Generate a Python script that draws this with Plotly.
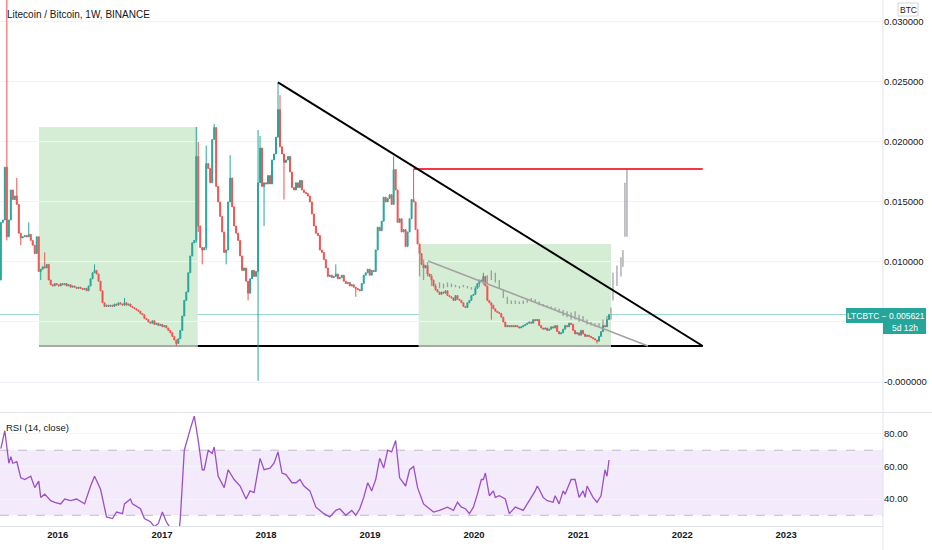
import pandas as pd
import plotly.graph_objects as go

# ---------------- DATA ----------------
# Weekly LTC/BTC candles (values in 1e-4 BTC), first week starting 2015-06-15
candle_start = "2015-06-15"
first_open_e4 = 85
close_e4 = [
    133, 135, 179, 121, 135, 160, 152, 155, 148, 124,
    120, 121, 122, 121, 123, 118, 114, 107, 121, 92,
    94, 96, 95, 98, 85, 81, 80, 82, 81, 80,
    82, 81, 82, 80, 81, 79, 80, 79, 78, 79,
    78, 77, 78, 76, 80, 86, 91, 93, 90, 84,
    76, 66, 63, 64, 63, 64, 63, 65, 64, 66,
    65, 64, 66, 64, 65, 63, 62, 61, 60, 59,
    57, 56, 53, 52, 50, 49, 51, 48, 49, 47,
    48, 46, 47, 45, 43, 41, 38, 35, 32, 36,
    43, 55, 68, 75, 91, 105, 116, 118, 188, 130,
    112, 110, 112, 182, 178, 166, 202, 212, 163, 150,
    138, 125, 108, 110, 150, 170, 146, 130, 124, 118,
    105, 93, 95, 84, 74, 86, 93, 88, 92, 166,
    195, 163, 166, 165, 172, 165, 185, 190, 204, 227,
    196, 190, 183, 185, 188, 175, 162, 160, 166, 162,
    168, 160, 158, 157, 155, 150, 140, 130, 124, 122,
    110, 108, 102, 95, 88, 89, 87, 88, 90, 86,
    87, 89, 84, 82, 83, 80, 81, 79, 78, 77,
    76, 82, 89, 91, 94, 89, 93, 92, 110, 129,
    126, 134, 154, 150, 153, 156, 148, 177, 160, 133,
    136, 125, 127, 113, 125, 136, 152, 150, 127, 115,
    107, 98, 95, 97, 90, 88, 85, 80, 77, 75,
    73, 75, 74, 76, 72, 71, 70, 68, 72, 69,
    68, 66, 63, 62, 66, 68, 72, 73, 78, 82,
    85, 84, 88, 80, 68, 66, 64, 61, 59, 58,
    57, 54, 50, 46, 47, 46, 47, 46, 47, 46,
    45, 46, 47, 48, 49, 50, 49, 52, 51, 52,
    47, 45, 44, 45, 43, 44, 46, 45, 47, 42,
    40, 41, 44, 47, 46, 49, 48, 43, 40, 41,
    39, 43, 40, 38, 39, 38, 37, 36, 35, 34,
    38, 42, 47, 46, 52, 56.21,
]
# notable wicks (week index -> value, 1e-4 BTC)
wick_high_e4 = {3: 340, 8: 170, 14: 133, 22: 108, 47: 98, 62: 70, 98: 212.5, 99: 200,
                103: 197, 107: 215, 115: 189, 129: 210, 130: 205, 139: 249.7, 140: 239,
                168: 98, 197: 188, 207: 177.5, 242: 91}
wick_low_e4 = {3: 118, 10: 114, 20: 85, 88: 30, 98: 116, 99: 125, 101: 98, 103: 110,
               113: 98, 124: 68, 129: 1, 132: 130, 142: 152, 178: 71, 246: 52, 299: 32}

# Grey "bars pattern" projection (week offsets from 2019-06-24, high/low in 1e-4 BTC)
ghost_start = "2019-06-24"
ghost_week = [0, 2, 4, 6, 8, 10, 12, 14, 16, 18, 20, 22, 24, 26, 28, 30, 32, 34, 36, 38,
              40, 42, 44, 46, 48, 50, 52, 54, 56, 58, 60, 62, 64, 66, 68, 70, 72, 74, 76, 78,
              80, 82, 84, 86, 88, 90, 92, 94, 96, 97, 99, 101, 102, 103, 104]
ghost_high_e4 = [112, 102, 100, 90, 82, 83, 82, 83, 82, 81, 80, 81, 80, 79, 80, 84, 86, 89, 93, 91,
                 85, 77, 71, 68, 68, 67, 68, 69, 70, 69, 67, 65, 64, 63, 62, 61, 60, 59, 58, 59,
                 56, 55, 52, 50, 49, 49, 52, 55, 62, 91, 97, 104, 110, 166, 177]
ghost_low_e4 = [88, 85, 88, 80, 76, 78, 78, 79, 79, 79, 78, 79, 78, 77, 78, 79, 81, 82, 85, 83,
                78, 70, 65, 65, 65, 65, 65, 66, 67, 66, 64, 63, 62, 61, 60, 58, 55, 54, 52, 52,
                50, 50, 48, 47, 46, 46, 47, 47, 52, 68, 80, 88, 96, 121, 121]

# RSI(14, close) readings: (week index, value)
rsi_week = [0, 2, 4, 5, 6, 8, 10, 12, 15, 17, 19, 20, 22, 25, 27, 30, 32, 35, 38, 42,
            45, 47, 50, 53, 56, 58, 61, 62, 65, 66, 70, 72, 75, 77, 79, 81, 83, 85, 86, 89,
            90, 92, 95, 97, 99, 101, 102, 104, 106, 107, 109, 112, 114, 117, 120, 123, 125, 127, 130, 132,
            135, 137, 139, 141, 143, 146, 148, 150, 152, 155, 158, 162, 165, 168, 170, 173, 176, 178, 180, 182,
            184, 186, 188, 190, 192, 194, 196, 198, 200, 203, 205, 207, 209, 212, 214, 217, 220, 224, 227, 229,
            231, 233, 235, 237, 239, 241, 242, 243, 245, 247, 248, 250, 253, 255, 258, 260, 262, 264, 266, 268,
            269, 270, 272, 274, 277, 278, 280, 282, 283, 286, 288, 290, 292, 293, 294, 297, 299, 301, 303, 304, 305]
rsi_val = [71, 82, 62, 66, 62, 63, 53, 52, 54, 47, 51, 41, 43, 39, 38, 37, 40, 39, 40, 37,
           48, 54, 46, 29, 28, 32, 31, 37, 40, 37, 34, 28, 26, 23, 25, 32, 26, 22, 18, 15,
           28, 70, 83, 91, 76, 58, 58, 70, 68, 72, 54, 47, 58, 52, 48, 40, 45, 44, 65, 58,
           59, 62, 69, 56, 55, 50, 50, 52, 48, 45, 35, 31, 29, 33, 34, 30, 33, 30, 34, 41,
           50, 45, 52, 65, 59, 70, 69, 76, 53, 48, 58, 60, 47, 37, 35, 32, 33, 35, 33, 38,
           35, 34, 31, 35, 43, 52, 52, 56, 42, 45, 41, 42, 40, 31, 35, 34, 33, 37, 41, 45,
           48, 46, 41, 39, 38, 42, 37, 45, 43, 52, 52, 41, 45, 41, 48, 41, 38, 42, 58, 54, 64]

# Drawings (date, price)
box1 = ("2015-10-27", "2017-05-06", 0.0030, 0.02125)
box2 = ("2019-06-21", "2021-04-26", 0.0030, 0.0115)
tri_top = ("2018-02-12", 0.02497, "2022-03-14", 0.0030)
tri_base = ("2017-02-20", "2022-03-14", 0.0030)
red_level = ("2019-06-03", "2022-03-14", 0.01775)
grey_trend = ("2019-07-24", 0.01008, "2021-09-03", 0.0030)
last_price = 0.005621

year_ticks = ["2016", "2017", "2018", "2019", "2020", "2021", "2022", "2023"]
price_ticks = [0.0, 0.005, 0.010, 0.015, 0.020, 0.025, 0.030]
price_tick_text = ["-0.000000", "", "0.010000", "0.015000", "0.020000", "0.025000", "0.030000"]
rsi_ticks = [40, 60, 80]
rsi_tick_text = ["40.00", "60.00", "80.00"]

x_range = ["2015-06-12", "2023-12-07"]
y_range = [-0.0025, 0.03183]
rsi_range = [23.4, 92.9]

# ---------------- BUILD ----------------
dates = pd.date_range(candle_start, periods=len(close_e4), freq="7D")
closes = [c / 1e4 for c in close_e4]
opens = [first_open_e4 / 1e4] + closes[:-1]
highs = [max(o, c) for o, c in zip(opens, closes)]
lows = [min(o, c) for o, c in zip(opens, closes)]
for k, v in wick_high_e4.items():
    highs[k] = v / 1e4
for k, v in wick_low_e4.items():
    lows[k] = v / 1e4

FONT = "Liberation Sans, Arial, sans-serif"
UP, DOWN = "#26a69a", "#ef5350"
TXT = "#131722"
W, H = 932, 550
ML, MR, MT, MB = 0, 49, 0, 24
PW, PH = W - ML - MR, H - MT - MB


def px(xp):
    return (xp - ML) / PW


def py(yp):
    return (PH + MT - yp) / PH


fig = go.Figure()

gs = pd.Timestamp(ghost_start)
gx, gy = [], []
for o, hi, lo in zip(ghost_week, ghost_high_e4, ghost_low_e4):
    d = gs + pd.Timedelta(weeks=o)
    gx += [d, d, None]
    gy += [hi / 1e4, lo / 1e4, None]
fig.add_trace(go.Scatter(x=gx, y=gy, mode="lines", line=dict(color="rgba(130,133,140,0.75)", width=1.3),
                         hoverinfo="skip", xaxis="x", yaxis="y"))

fig.add_trace(go.Candlestick(
    x=dates, open=opens, high=highs, low=lows, close=closes,
    increasing=dict(line=dict(color=UP, width=1), fillcolor=UP),
    decreasing=dict(line=dict(color=DOWN, width=1), fillcolor=DOWN),
    whiskerwidth=0, xaxis="x", yaxis="y", name="LTCBTC"))

rsi_x = [dates[i] for i in rsi_week]
fig.add_trace(go.Scatter(x=rsi_x, y=rsi_val, mode="lines", line=dict(color="#9c4fc8", width=1.3),
                         xaxis="x2", yaxis="y2", hoverinfo="skip"))

shapes = []
shapes.append(dict(type="line", xref="x", yref="y", x0=tri_base[0], x1=tri_base[1], y0=tri_base[2], y1=tri_base[2],
                   line=dict(color="#000000", width=2), layer="below"))
for b in (box1, box2):
    shapes.append(dict(type="rect", xref="x", yref="y", x0=b[0], x1=b[1], y0=b[2], y1=b[3],
                       fillcolor="#d5ecd5", line=dict(width=0), layer="below"))
    shapes.append(dict(type="line", xref="x", yref="y", x0=b[0], x1=b[1], y0=b[2], y1=b[2],
                       line=dict(color="#a8aaa8", width=2), layer="below"))
shapes.append(dict(type="line", xref="paper", yref="y", x0=0, x1=1, y0=last_price, y1=last_price,
                   line=dict(color="rgba(38,166,154,0.45)", width=1), layer="below"))
shapes.append(dict(type="rect", xref="paper", yref="y2", x0=0, x1=1, y0=30, y1=70,
                   fillcolor="#f3eafb", line=dict(width=0), layer="below"))
for lv in (30, 70):
    shapes.append(dict(type="line", xref="paper", yref="y2", x0=0, x1=1, y0=lv, y1=lv,
                       line=dict(color="#c4b8cc", width=1, dash="dash"), layer="below"))
shapes.append(dict(type="line", xref="x", yref="y", x0=grey_trend[0], y0=grey_trend[1], x1=grey_trend[2], y1=grey_trend[3],
                   line=dict(color="#a3a3a3", width=1.5)))
shapes.append(dict(type="line", xref="x", yref="y", x0=red_level[0], x1=red_level[1], y0=red_level[2], y1=red_level[2],
                   line=dict(color="#f23645", width=2)))
shapes.append(dict(type="line", xref="x", yref="y", x0=tri_top[0], y0=tri_top[1], x1=tri_top[2], y1=tri_top[3],
                   line=dict(color="#000000", width=2)))
shapes.append(dict(type="line", xref="paper", yref="paper", x0=0, x1=px(W), y0=py(412.5), y1=py(412.5),
                   line=dict(color="#e0e3eb", width=1)))
shapes.append(dict(type="line", xref="paper", yref="paper", x0=1, x1=1, y0=py(H), y1=1,
                   line=dict(color="#e0e3eb", width=1)))
shapes.append(dict(type="rect", xref="paper", yref="paper", x0=px(846), x1=px(926), y0=py(323), y1=py(308),
                   fillcolor="#26a69a", line=dict(width=0)))
shapes.append(dict(type="rect", xref="paper", yref="paper", x0=px(883), x1=px(926), y0=py(334), y1=py(322),
                   fillcolor="#26a69a", line=dict(width=0)))
shapes.append(dict(type="rect", xref="paper", yref="paper", x0=px(898), x1=px(918), y0=py(16), y1=py(3),
                   fillcolor="white", line=dict(color="#d1d4dc", width=1)))

annotations = [
    dict(text="Litecoin / Bitcoin, 1W, BINANCE", xref="paper", yref="paper", x=px(5), y=py(14),
         xanchor="left", yanchor="middle", showarrow=False, font=dict(family=FONT, size=10, color=TXT)),
    dict(text="RSI (14, close)", xref="paper", yref="paper", x=px(4), y=py(427),
         xanchor="left", yanchor="middle", showarrow=False, font=dict(family=FONT, size=9.5, color=TXT)),
    dict(text="LTCBTC \u2212 0.005621", xref="paper", yref="paper", x=px(886), y=py(315.5),
         xanchor="center", yanchor="middle", showarrow=False, borderpad=0,
         font=dict(family=FONT, size=8.5, color="white")),
    dict(text="5d 12h", xref="paper", yref="paper", x=px(904.5), y=py(328.5),
         xanchor="center", yanchor="middle", showarrow=False, borderpad=0,
         font=dict(family=FONT, size=8.5, color="white")),
    dict(text="BTC", xref="paper", yref="paper", x=px(908), y=py(9.5),
         xanchor="center", yanchor="middle", showarrow=False, borderpad=0,
         font=dict(family=FONT, size=8.5, color=TXT)),
]

split_main = py(412)
split_rsi = py(413)
TICKF = dict(family=FONT, size=9.5, color=TXT)

fig.update_layout(
    width=W, height=H, margin=dict(l=ML, r=MR, t=MT, b=MB, autoexpand=False),
    paper_bgcolor="white", plot_bgcolor="white", showlegend=False,
    shapes=shapes, annotations=annotations,
    xaxis=dict(domain=[0, 1], anchor="y", range=x_range, type="date", rangeslider=dict(visible=False),
               showticklabels=False, showgrid=False, zeroline=False, showline=False, ticks="",
               automargin=False),
    yaxis=dict(domain=[split_main, 1], anchor="x", side="right", range=y_range,
               tickvals=price_ticks, ticktext=price_tick_text, showgrid=True, gridcolor="#f0f3fa",
               zeroline=False, showline=False, ticks="", automargin=False, tickfont=TICKF),
    xaxis2=dict(domain=[0, 1], anchor="y2", range=x_range, type="date", matches="x",
                tickvals=[f"{y}-01-01" for y in year_ticks], ticktext=year_ticks,
                showgrid=False, zeroline=False, showline=True, linecolor="#e0e3eb", ticks="",
                automargin=False, tickfont=dict(family=FONT, size=9.5, color=TXT, weight="bold")),
    yaxis2=dict(domain=[0, split_rsi], anchor="x2", side="right", range=rsi_range,
                tickvals=rsi_ticks, ticktext=rsi_tick_text, showgrid=True, gridcolor="#f4f5f9",
                zeroline=False, showline=False, ticks="", automargin=False, tickfont=TICKF),
)

fig.write_html("out.html", config={"displayModeBar": False},
               post_script="document.body.style.margin='0';document.body.style.overflow='hidden';")
